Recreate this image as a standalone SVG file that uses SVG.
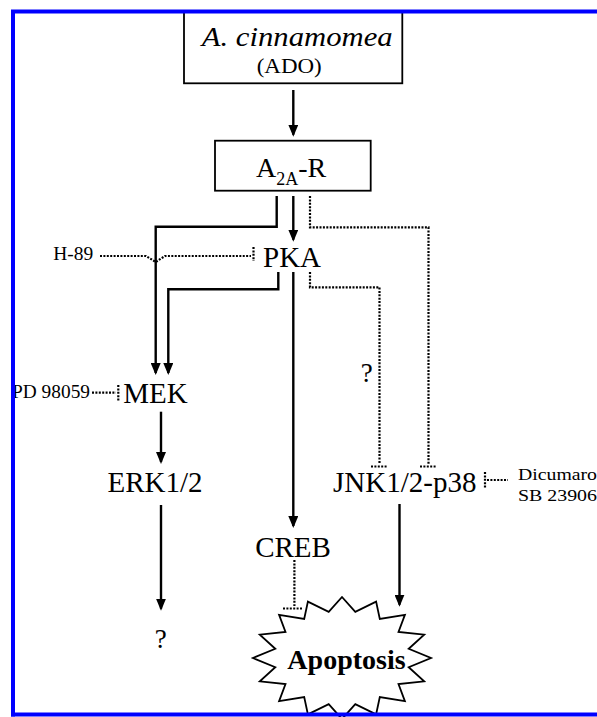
<svg xmlns="http://www.w3.org/2000/svg" width="597" height="717" viewBox="0 0 597 717">
<style>
.box{fill:#fff;stroke:#000;stroke-width:1.8}
.solid{fill:none;stroke:#000;stroke-width:2.4}
.dot{fill:none;stroke:#000;stroke-width:2.2;stroke-dasharray:2 1.4}
.lbl{font-family:"Liberation Serif","Times New Roman",serif;fill:#000}
.frame{fill:none;stroke:#0000ff;stroke-width:4}
</style>
<defs>
<marker id="arr" viewBox="0 0 12 10" refX="10" refY="5" markerWidth="12" markerHeight="10" markerUnits="userSpaceOnUse" orient="auto">
<path d="M0,0 L12,5 L0,10 z" fill="#000"/>
</marker>
</defs>
<rect width="597" height="717" fill="#fff"/>

<g id="connectors">
<line class="solid" x1="293.3" y1="90" x2="293.3" y2="134.7" marker-end="url(#arr)"/>
<line class="solid" x1="293.3" y1="196" x2="293.3" y2="239.7" marker-end="url(#arr)"/>
<path class="solid" d="M276.7,196 V226.7 H155.7 V373" marker-end="url(#arr)"/>
<path class="solid" d="M278.3,272 V289.3 H168.3 V373" marker-end="url(#arr)"/>
<line class="solid" x1="161" y1="411.7" x2="161" y2="462" marker-end="url(#arr)"/>
<line class="solid" x1="161" y1="505" x2="161" y2="608.7" marker-end="url(#arr)"/>
<line class="solid" x1="293.3" y1="272" x2="293.3" y2="526" marker-end="url(#arr)"/>
<line class="solid" x1="399.5" y1="504" x2="399.5" y2="604.7" marker-end="url(#arr)"/>
<path class="dot" d="M310,196 V227.3 H428.5 V464"/>
<line class="dot" x1="420" y1="466.5" x2="437" y2="466.5"/>
<path class="dot" d="M310,272 V287.3 H379.5 V464"/>
<line class="dot" x1="371" y1="466.5" x2="388" y2="466.5"/>
<path class="dot" d="M100,256 H146 L155.7,262 L165,256 H251"/>
<line class="dot" x1="253.5" y1="247" x2="253.5" y2="261"/>
<line class="dot" x1="92" y1="392.7" x2="116" y2="392.7"/>
<line class="dot" x1="118.3" y1="385" x2="118.3" y2="401"/>
<line class="dot" x1="294.4" y1="560" x2="294.4" y2="606"/>
<line class="dot" x1="283" y1="608.5" x2="303" y2="608.5"/>
<line class="dot" x1="487" y1="480" x2="508" y2="480"/>
<line class="dot" x1="485" y1="472" x2="485" y2="489"/>
</g>

<g id="node-ado">
<rect class="box" x="184" y="12" width="218.3" height="71.3"/>
<text class="lbl" x="201.7" y="46" font-size="27" font-style="italic" textLength="191" lengthAdjust="spacingAndGlyphs">A. cinnamomea</text>
<text class="lbl" x="256.7" y="73" font-size="20" textLength="65" lengthAdjust="spacingAndGlyphs">(ADO)</text>
</g>

<g id="node-a2ar">
<rect class="box" x="215" y="140.7" width="155.7" height="50"/>
<text class="lbl" x="256" y="177" font-size="28">A<tspan font-size="18" dy="8">2A</tspan><tspan dy="-8">-R</tspan></text>
</g>

<g id="node-pka"><text class="lbl" x="263" y="267.3" font-size="29">PKA</text></g>
<g id="node-h89"><text class="lbl" x="53.3" y="260" font-size="18" textLength="40" lengthAdjust="spacingAndGlyphs">H-89</text></g>
<g id="node-mek"><text class="lbl" x="123.3" y="402.7" font-size="29">MEK</text></g>
<g id="node-pd98059"><text class="lbl" x="12" y="398" font-size="19" textLength="78" lengthAdjust="spacingAndGlyphs">PD 98059</text></g>
<g id="node-erk"><text class="lbl" x="155" y="492" font-size="29" text-anchor="middle">ERK1/2</text></g>
<g id="node-q1"><text class="lbl" x="366.7" y="382" font-size="27" text-anchor="middle">?</text></g>
<g id="node-jnk"><text class="lbl" x="333" y="492" font-size="29">JNK1/2-p38</text></g>
<g id="node-dicumarol">
<text class="lbl" x="518" y="480" font-size="17" textLength="79" lengthAdjust="spacingAndGlyphs">Dicumaro</text>
<text class="lbl" x="518" y="501" font-size="17" textLength="79" lengthAdjust="spacingAndGlyphs">SB 23906</text>
</g>
<g id="node-creb"><text class="lbl" x="293" y="556.5" font-size="29" text-anchor="middle">CREB</text></g>
<g id="node-q2"><text class="lbl" x="160.7" y="648" font-size="27" text-anchor="middle">?</text></g>

<g id="node-apoptosis">
<polygon class="box" stroke-width="1.6" points="342,597 355.3,611.9 376.1,601.6 379.8,618.9 404.9,614.9 398.5,631.9 424.2,634.7 408.7,648.8 431,658 408.7,667.2 424.2,681.3 398.5,684.1 404.9,701.1 379.8,697.1 376.1,714.4 355.3,704.1 342,719 328.7,704.1 307.9,714.4 304.2,697.1 279.1,701.1 285.5,684.1 259.8,681.3 275.3,667.2 253,658 275.3,648.8 259.8,634.7 285.5,631.9 279.1,614.9 304.2,618.9 307.9,601.6 328.7,611.9"/>
<text class="lbl" x="346.5" y="669" font-size="28" font-weight="bold" text-anchor="middle">Apoptosis</text>
</g>

<g id="frame">
<path class="frame" d="M13,716.5 V11.5 H597"/>
<line class="frame" x1="11" y1="714.5" x2="597" y2="714.5"/>
</g>
</svg>
